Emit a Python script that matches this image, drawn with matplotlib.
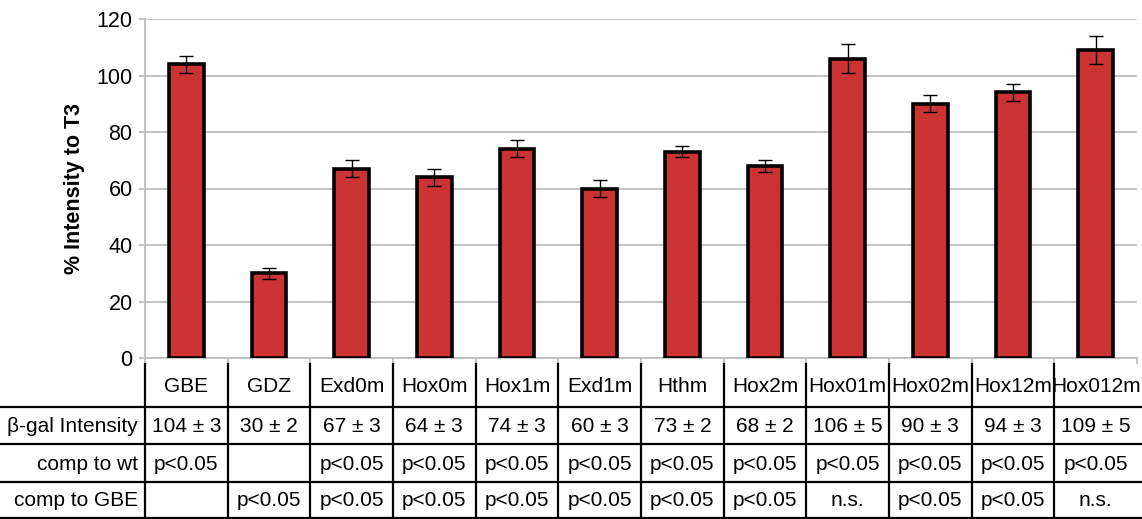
import matplotlib
matplotlib.use("Agg")
import matplotlib.pyplot as plt
import matplotlib.transforms as mtransforms

plt.rcParams['font.family'] = ['Liberation Sans', 'DejaVu Sans']

constructs = ['GBE', 'GDZ', 'Exd0m', 'Hox0m', 'Hox1m', 'Exd1m', 'Hthm',
              'Hox2m', 'Hox01m', 'Hox02m', 'Hox12m', 'Hox012m']
intensity = [104, 30, 67, 64, 74, 60, 73, 68, 106, 90, 94, 109]
errors = [3, 2, 3, 3, 3, 3, 2, 2, 5, 3, 3, 5]
comp_wt = ['p<0.05', '', 'p<0.05', 'p<0.05', 'p<0.05', 'p<0.05', 'p<0.05',
           'p<0.05', 'p<0.05', 'p<0.05', 'p<0.05', 'p<0.05']
comp_gbe = ['', 'p<0.05', 'p<0.05', 'p<0.05', 'p<0.05', 'p<0.05', 'p<0.05',
            'p<0.05', 'n.s.', 'p<0.05', 'p<0.05', 'n.s.']
row_labels = ['\u03b2-gal Intensity', 'comp to wt', 'comp to GBE']

W, H = 1142, 519
fig = plt.figure(figsize=(W / 100, H / 100), dpi=100)

def fy(px):
    return 1 - px / H

ax = fig.add_axes([145 / W, fy(358), (1137 - 145) / W, (358 - 19) / H])

x = list(range(len(constructs)))
ax.bar(x, intensity, width=0.42, color='#CC3333', edgecolor='black',
       linewidth=2.6, zorder=3)
ax.errorbar(x, intensity, yerr=errors, fmt='none', ecolor='black',
            elinewidth=1, capsize=5, capthick=1, zorder=4)

ax.set_xlim(-0.5, len(constructs) - 0.5)
ax.set_ylim(0, 120)
ax.set_yticks(range(0, 121, 20))
ax.yaxis.grid(True, color='#BEBEBE', linewidth=1.3, zorder=0)
ax.set_axisbelow(True)
for s in ['top', 'right']:
    ax.spines[s].set_visible(False)
ax.spines['left'].set_color('#BEBEBE')
ax.spines['bottom'].set_color('#BEBEBE')
ax.spines['left'].set_linewidth(1.3)
ax.spines['bottom'].set_linewidth(1.3)
ax.set_xticks([i - 0.5 for i in range(len(constructs) + 1)])
ax.set_xticklabels([])
ax.tick_params(axis='both', colors='#BEBEBE', length=4, width=1.3)
ax.tick_params(axis='y', labelcolor='black', labelsize=15.5, pad=5)
ax.set_ylabel('% Intensity to T3', fontsize=15.5, fontweight='bold', labelpad=8)

# table underneath
trans = mtransforms.blended_transform_factory(ax.transData, fig.transFigure)
for i in range(len(constructs)):
    ax.plot([i - 0.5, i - 0.5], [fy(364), 0], transform=trans,
            color='black', lw=1.6, clip_on=False)
for ypx in [407, 444, 482, 517.5]:
    fig.add_artist(plt.Line2D([0, 1], [fy(ypx), fy(ypx)], color='black',
                              lw=1.6, transform=fig.transFigure))

rows = [constructs, ['%d \u00b1 %d' % (v, e) for v, e in zip(intensity, errors)],
        comp_wt, comp_gbe]
row_y = [386, 427, 464, 500]
for vals, ypx in zip(rows, row_y):
    for i, t in enumerate(vals):
        ax.text(i, fy(ypx), t, transform=trans, ha='center', va='center',
                fontsize=15)
for lab, ypx in zip(row_labels, row_y[1:]):
    fig.text(138 / W, fy(ypx), lab, ha='right', va='center', fontsize=15)

fig.savefig('out.png', dpi=100)
